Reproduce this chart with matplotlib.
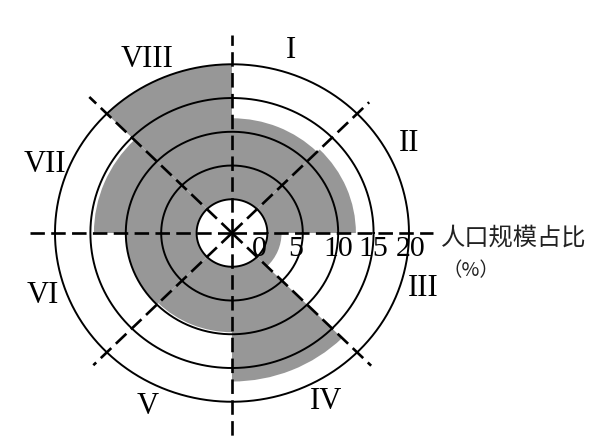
import matplotlib
matplotlib.use("Agg")
import matplotlib.pyplot as plt
import numpy as np

# sector data (population share, %)
sectors = ["I", "II", "III", "IV", "V", "VI", "VII", "VIII"]
share = [12.0, 12.5, 2.0, 17.0, 9.7, 10.0, 14.5, 20.0]
ring_ticks = [0, 5, 10, 15, 20]
tick_labels = ["0", "5", "10", "15", "20"]
caption = "人口规模占比"
unit = "（%）"

hole = 5            # white core, drawn as the "0" ring
gray = "#979797"

fig = plt.figure(figsize=(6.01, 4.43), dpi=100)
ax = fig.add_axes([0.0326, 0.0169, 0.7068, 0.9142], projection="polar")
ax.set_aspect("auto")
ax.set_rlim(0, 30)
ax.set_theta_zero_location("E")
ax.set_theta_direction(1)
ax.grid(False)
ax.set_xticks([])
ax.set_yticks([])
ax.spines["polar"].set_visible(False)

# sector mids: I is 90-45 deg, going clockwise
mids = np.deg2rad([67.5 - 45 * i for i in range(8)])
ax.bar(mids, share, width=np.deg2rad(45), bottom=hole, color=gray,
       edgecolor="none", zorder=1)

# rings
th = np.linspace(0, 2 * np.pi, 500)
for v in ring_ticks:
    ax.plot(th, np.full_like(th, v + hole), color="black", lw=1.4, zorder=3)

# dashed direction lines
ray_deg = [0, 45, 90, 135, 180, 225, 270, 315]
ray_len = [28.4, 27.4, 29.3, 28.5, 28.5, 27.7, 30.6, 27.8]
for d, L in zip(ray_deg, ray_len):
    t = np.deg2rad(d)
    ax.plot([t, t], [0, L], color="black", lw=1.9, dashes=(5.5, 2.4),
            zorder=4, clip_on=False)

# ring labels along the east axis
nudge = [-8, -7, 0, 0, 2]
for v, lab, n in zip(ring_ticks, tick_labels, nudge):
    ax.annotate(lab, xy=(0, v + hole), xytext=(n * 0.72, -16 * 0.72),
                textcoords="offset points", ha="center", va="center",
                fontsize=21.5, family="Liberation Serif", zorder=5)

# sector numerals
label_deg = [73, 28, -17, -62, -115, -161, 159, 115]
for s, d in zip(sectors, label_deg):
    ax.text(np.deg2rad(d), 28.3, s, ha="center", va="center", fontsize=22,
            family="Liberation Serif", clip_on=False)

fig.text(441 / 601, 1 - 238 / 443, caption, ha="left", va="center",
         fontsize=17.5, family=["Noto Sans CJK SC", "DejaVu Sans"],
         fontweight="light", color="#222222")
fig.text(471 / 601, 1 - 271 / 443, unit, ha="center", va="center",
         fontsize=14, family=["Noto Sans CJK SC", "DejaVu Sans"],
         fontweight="light", color="#222222")

fig.savefig("out.png", dpi=100)
